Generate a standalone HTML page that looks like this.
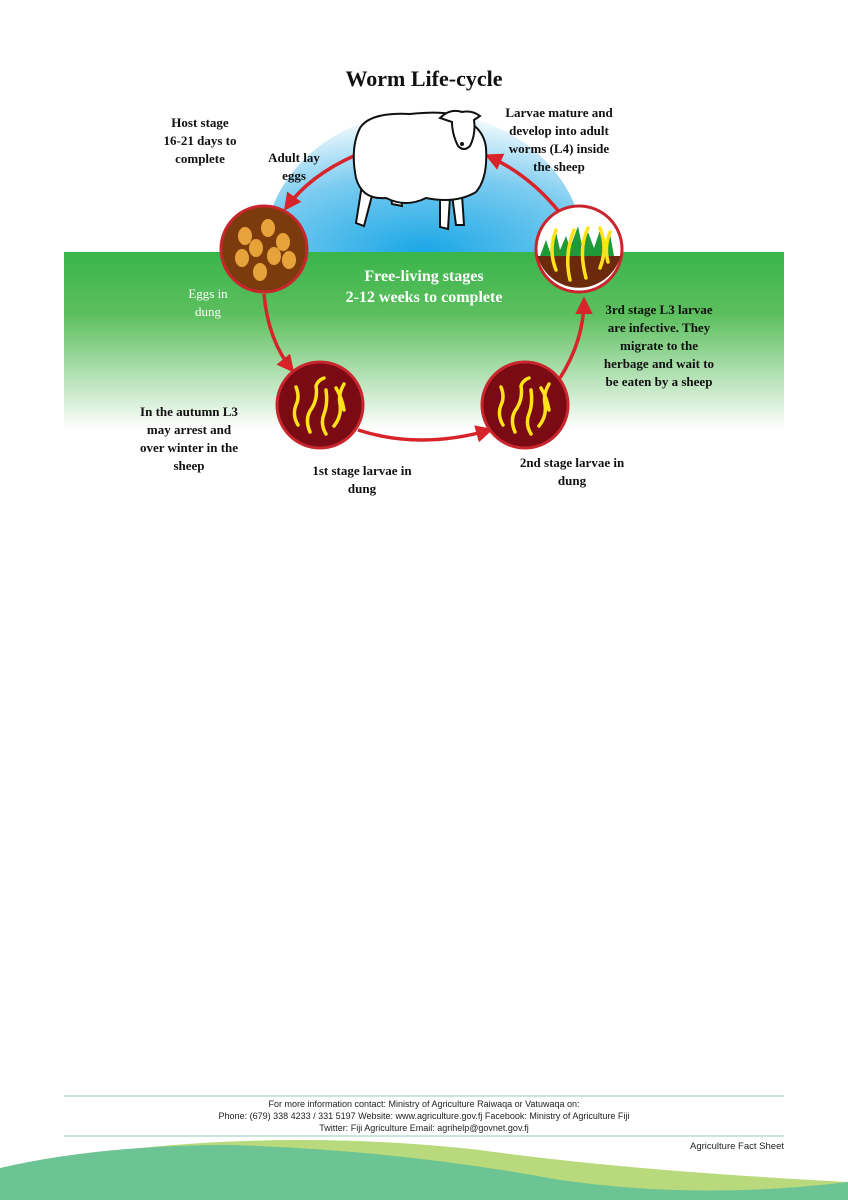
<!DOCTYPE html>
<html><head><meta charset="utf-8"><style>
html,body{margin:0;padding:0;background:#fff;}
svg{display:block;}
.b{font-family:"Liberation Serif",serif;font-weight:bold;font-size:13px;fill:#111;text-anchor:middle;}
.f{font-family:"Liberation Sans Narrow","Liberation Sans",sans-serif;font-size:9px;fill:#222;text-anchor:middle;}
</style></head><body>
<svg width="848" height="1200" viewBox="0 0 848 1200" xmlns="http://www.w3.org/2000/svg">
<defs>
<linearGradient id="g" x1="0" y1="0" x2="0" y2="1">
<stop offset="0" stop-color="#3ab54a"/><stop offset="0.35" stop-color="#5cbf5e"/><stop offset="1" stop-color="#ffffff"/>
</linearGradient>
<radialGradient id="sky" cx="0.5" cy="1" r="1">
<stop offset="0" stop-color="#1aa7e6"/><stop offset="0.55" stop-color="#7cccf0"/><stop offset="1" stop-color="#ffffff"/>
</radialGradient>
<marker id="a" viewBox="0 0 10 10" refX="8" refY="5" markerWidth="5" markerHeight="5" orient="auto"><path d="M0,0L10,5L0,10z" fill="#d8232a"/></marker>
</defs>
<rect width="848" height="1200" fill="#fff"/>
<text x="424" y="86" class="b" style="font-size:22px">Worm Life-cycle</text>
<path d="M264,252 A160,140 0 0 1 584,252 Z" fill="url(#sky)"/>
<rect x="64" y="252" width="720" height="178" fill="url(#g)"/>
<g fill="none" stroke="#d8232a" stroke-width="3.5">
<path d="M356,155 Q310,175 286,208" marker-end="url(#a)"/>
<path d="M264,294 Q268,340 292,370" marker-end="url(#a)"/>
<path d="M358,430 Q420,450 490,430" marker-end="url(#a)"/>
<path d="M560,378 Q584,340 584,300" marker-end="url(#a)"/>
<path d="M560,213 Q530,175 488,156" marker-end="url(#a)"/>
</g>
<g stroke="#111" stroke-width="2" fill="#fff">
<path d="M362,185 l-6,38 l8,3 l10,-38z"/>
<path d="M388,180 l4,24 l10,2 l-2,-24z"/>
<path d="M440,195 l0,32 l8,2 l2,-32z"/>
<path d="M452,195 l4,30 l8,0 l-2,-30z"/>
<path d="M360,128 q10,-16 50,-14 q40,-4 52,4 q22,10 24,30 q2,30 -10,44 q-20,12 -50,6 q-20,10 -40,0 q-24,2 -30,-20 q-6,-30 4,-50z"/>
<path d="M440,118 q10,-10 22,-6 q10,-2 18,4 l-6,4 q2,14 -4,26 q-6,6 -12,0 q-6,-12 -6,-24 l-12,-4z"/>
</g>
<circle cx="462" cy="144" r="2" fill="#111"/>
<g stroke="#c9252c" stroke-width="3">
<circle cx="264" cy="249" r="43" fill="#7b3b0c"/>
<circle cx="579" cy="249" r="43" fill="#fff"/>
<circle cx="320" cy="405" r="43" fill="#7a0a14"/>
<circle cx="525" cy="405" r="43" fill="#7a0a14"/>
</g>
<path d="M537.5,256 h83 a43,43 0 0 1 -83,0z" fill="#6b2a0c"/>
<path d="M540,256 l6,-16 l4,12 l6,-20 l4,18 l6,-14 l4,12 l8,-22 l4,20 l6,-14 l6,16 l6,-18 l4,16 l6,-12 l4,22z" fill="#1e9a3b"/>
<g fill="#e8a23a">
<ellipse cx="245" cy="236" rx="7" ry="9"/><ellipse cx="268" cy="228" rx="7" ry="9"/><ellipse cx="283" cy="242" rx="7" ry="9"/>
<ellipse cx="256" cy="248" rx="7" ry="9"/><ellipse cx="274" cy="256" rx="7" ry="9"/><ellipse cx="242" cy="258" rx="7" ry="9"/>
<ellipse cx="289" cy="260" rx="7" ry="9"/><ellipse cx="260" cy="272" rx="7" ry="9"/>
</g>
<g fill="none" stroke="#ffe21a" stroke-width="3.5" stroke-linecap="round">
<path d="M298,425 q-6,-10 -2,-20 q4,-8 0,-18 M310,432 q-6,-14 2,-24 q6,-10 4,-22 q2,-6 8,-8 M326,434 q-6,-10 -2,-20 q4,-10 2,-24 M334,426 q8,-10 6,-22 q-2,-10 4,-20 M344,410 q-2,-12 -8,-22"/>
<path d="M503,425 q-6,-10 -2,-20 q4,-8 0,-18 M515,432 q-6,-14 2,-24 q6,-10 4,-22 q2,-6 8,-8 M531,434 q-6,-10 -2,-20 q4,-10 2,-24 M539,426 q8,-10 6,-22 q-2,-10 4,-20 M549,410 q-2,-12 -8,-22"/>
<path d="M556,270 q-8,-20 0,-40 M570,280 q-6,-25 4,-50 M586,278 q-8,-30 2,-50 M600,268 q8,-20 0,-40 M608,262 q-4,-15 2,-30"/>
</g>
<text class="b"><tspan x="200" y="127">Host stage</tspan><tspan x="200" y="145">16-21 days to</tspan><tspan x="200" y="163">complete</tspan></text>
<text class="b"><tspan x="294" y="162">Adult lay</tspan><tspan x="294" y="180">eggs</tspan></text>
<text class="b"><tspan x="559" y="117">Larvae mature and</tspan><tspan x="559" y="135">develop into adult</tspan><tspan x="559" y="153">worms (L4) inside</tspan><tspan x="559" y="171">the sheep</tspan></text>
<text class="b" style="font-size:16px;fill:#fff"><tspan x="424" y="281">Free-living stages</tspan><tspan x="424" y="302">2-12 weeks to complete</tspan></text>
<text class="b" style="fill:#fff;font-weight:normal"><tspan x="208" y="298">Eggs in</tspan><tspan x="208" y="316">dung</tspan></text>
<text class="b"><tspan x="659" y="314">3rd stage L3 larvae</tspan><tspan x="659" y="332">are infective. They</tspan><tspan x="659" y="350">migrate to the</tspan><tspan x="659" y="368">herbage and wait to</tspan><tspan x="659" y="386">be eaten by a sheep</tspan></text>
<text class="b"><tspan x="189" y="416">In the autumn L3</tspan><tspan x="189" y="434">may arrest and</tspan><tspan x="189" y="452">over winter in the</tspan><tspan x="189" y="470">sheep</tspan></text>
<text class="b"><tspan x="362" y="475">1st stage larvae in</tspan><tspan x="362" y="493">dung</tspan></text>
<text class="b"><tspan x="572" y="467">2nd stage larvae in</tspan><tspan x="572" y="485">dung</tspan></text>
<line x1="64" y1="1096" x2="784" y2="1096" stroke="#a8d8c8" stroke-width="1.2"/>
<line x1="64" y1="1136" x2="784" y2="1136" stroke="#a8d8c8" stroke-width="1.2"/>
<text class="f"><tspan x="424" y="1107">For more information contact: Ministry of Agriculture Raiwaqa or Vatuwaqa on:</tspan><tspan x="424" y="1119">Phone: (679) 338 4233 / 331 5197  Website: www.agriculture.gov.fj  Facebook: Ministry of Agriculture Fiji</tspan><tspan x="424" y="1131">Twitter: Fiji Agriculture  Email: agrihelp@govnet.gov.fj</tspan></text>
<text class="f" x="784" y="1149" style="text-anchor:end;font-size:9.5px">Agriculture Fact Sheet</text>
<path d="M120,1150 Q300,1130 480,1150 Q620,1170 848,1182 L848,1200 L600,1200 Q400,1160 120,1150z" fill="#b8da7c"/>
<path d="M0,1168 Q100,1145 230,1145 Q400,1150 560,1180 Q700,1200 848,1182 L848,1200 L0,1200z" fill="#6cc393"/>
</svg>
</body></html>
